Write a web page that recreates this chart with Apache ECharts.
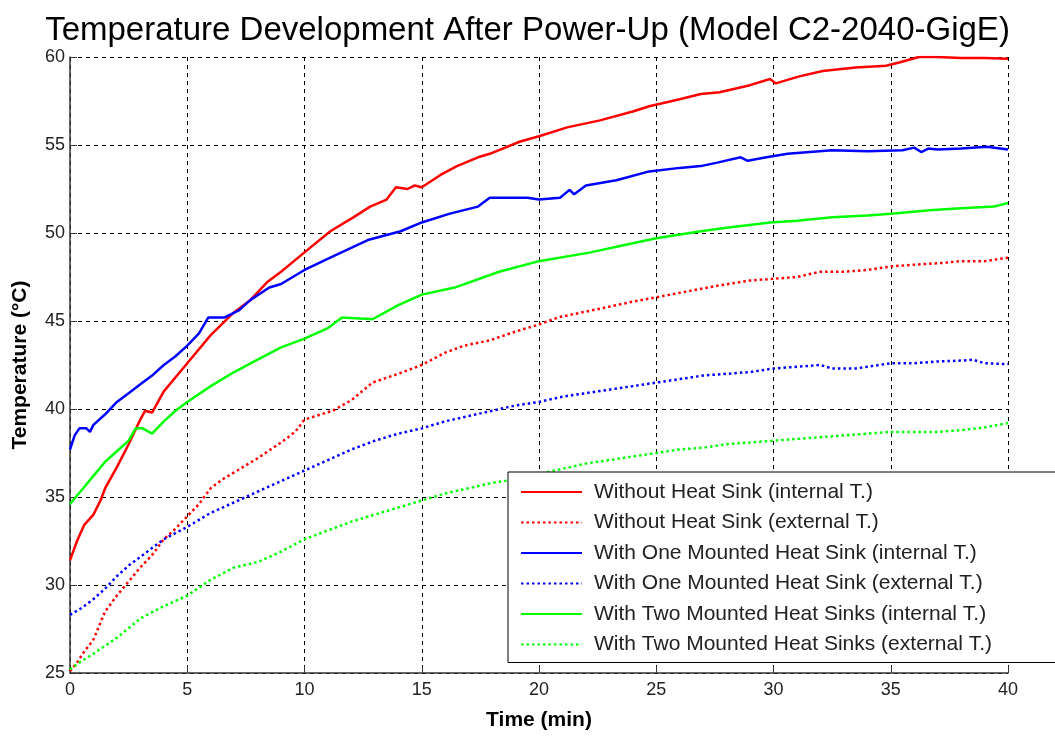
<!DOCTYPE html>
<html>
<head>
<meta charset="utf-8">
<script src="https://cdn.jsdelivr.net/npm/echarts@6/dist/echarts.min.js"></script>
<style>
  html, body { margin: 0; padding: 0; background: #fff; }
  #chart { width: 1055px; height: 736px; }
</style>
</head>
<body>
<div id="chart"></div>
<script>
// axis ticks
const xTicks = [0, 5, 10, 15, 20, 25, 30, 35, 40];
const yTicks = [25, 30, 35, 40, 45, 50, 55, 60];

const seriesNames = [
    'Without Heat Sink (internal T.)',
    'Without Heat Sink (external T.)',
    'With One Mounted Heat Sink (internal T.)',
    'With One Mounted Heat Sink (external T.)',
    'With Two Mounted Heat Sinks (internal T.)',
    'With Two Mounted Heat Sinks (external T.)'
];

// without heat sink, internal
const redInT = [0, 0.3, 0.6, 1.0, 1.3, 1.5, 2.0, 2.5, 3.0, 3.2, 3.5, 4.0, 5.0, 6.0, 7.0, 7.7, 8.4, 9.0, 10.0, 11.1, 12.1, 12.8, 13.5, 13.9, 14.4, 14.7, 15.0, 15.8, 16.5, 17.4, 17.9, 19.2, 20.0, 21.2, 22.6, 24.0, 24.7, 26.0, 26.9, 27.7, 29.0, 29.85, 30.1, 31.1, 32.1, 33.5, 34.8, 35.4, 36.2, 37.0, 38.0, 39.0, 40.0];
const redInV = [31.4, 32.5, 33.4, 34.0, 34.8, 35.5, 36.7, 38.0, 39.4, 39.9, 39.8, 41.0, 42.6, 44.2, 45.5, 46.2, 47.2, 47.8, 48.9, 50.1, 50.9, 51.5, 51.9, 52.6, 52.5, 52.7, 52.6, 53.3, 53.8, 54.3, 54.5, 55.2, 55.5, 56.0, 56.4, 56.9, 57.2, 57.6, 57.9, 58.0, 58.4, 58.75, 58.5, 58.9, 59.2, 59.4, 59.5, 59.7, 60.0, 60.0, 59.95, 59.95, 59.9];

// without heat sink, external
const redExT = [0, 0.3, 0.6, 1.0, 1.5, 2.0, 2.5, 3.0, 3.5, 4.0, 4.5, 5.0, 5.5, 6.0, 6.5, 7.0, 8.0, 9.0, 9.6, 10.0, 11.2, 12.0, 12.9, 14.0, 15.0, 16.0, 16.8, 17.9, 19.0, 20.0, 20.8, 22.6, 24.0, 25.2, 26.0, 27.6, 29.0, 30.0, 31.0, 32.0, 33.0, 34.0, 35.0, 36.0, 37.2, 38.0, 39.0, 40.0];
const redExV = [25.1, 25.6, 26.2, 26.9, 28.5, 29.4, 30.2, 31.0, 31.7, 32.6, 33.2, 33.9, 34.6, 35.5, 36.0, 36.4, 37.2, 38.1, 38.7, 39.4, 39.9, 40.5, 41.5, 42.0, 42.5, 43.2, 43.6, 43.9, 44.4, 44.8, 45.2, 45.7, 46.1, 46.4, 46.6, 47.0, 47.3, 47.4, 47.5, 47.8, 47.8, 47.9, 48.1, 48.2, 48.3, 48.4, 48.4, 48.6];

// one heat sink, internal
const blueInT = [0, 0.2, 0.4, 0.7, 0.85, 1.0, 1.5, 2.0, 2.5, 3.0, 3.5, 4.0, 4.5, 5.0, 5.5, 5.9, 6.6, 7.2, 7.7, 8.5, 9.0, 10.0, 11.1, 12.7, 14.1, 15.0, 16.2, 17.4, 17.9, 19.5, 20.0, 20.9, 21.3, 21.5, 22.0, 23.3, 24.7, 26.0, 26.9, 27.6, 28.6, 28.9, 29.7, 30.6, 32.5, 34.0, 35.5, 36.0, 36.3, 36.6, 37.0, 38.0, 39.1, 40.0];
const blueInV = [37.7, 38.5, 38.9, 38.9, 38.7, 39.1, 39.7, 40.4, 40.9, 41.4, 41.9, 42.5, 43.0, 43.6, 44.3, 45.2, 45.2, 45.6, 46.2, 46.9, 47.1, 47.9, 48.6, 49.6, 50.1, 50.6, 51.1, 51.5, 52.0, 52.0, 51.9, 52.0, 52.45, 52.2, 52.7, 53.0, 53.5, 53.7, 53.8, 54.0, 54.3, 54.1, 54.3, 54.5, 54.7, 54.65, 54.7, 54.85, 54.6, 54.8, 54.75, 54.8, 54.9, 54.75];

// one heat sink, external
const blueExT = [0, 0.5, 1.0, 1.5, 2.0, 2.5, 3.0, 4.0, 5.0, 6.0, 7.0, 8.0, 9.0, 10.0, 11.0, 12.0, 13.0, 14.0, 15.0, 16.0, 17.0, 18.0, 19.0, 20.0, 21.0, 22.0, 23.0, 24.0, 25.0, 26.0, 27.0, 28.0, 29.0, 30.0, 31.0, 32.0, 32.5, 33.5, 34.5, 35.0, 36.0, 37.0, 38.0, 38.5, 39.0, 40.0];
const blueExV = [28.3, 28.7, 29.2, 29.8, 30.5, 31.1, 31.6, 32.6, 33.3, 34.1, 34.7, 35.3, 35.9, 36.5, 37.1, 37.7, 38.2, 38.6, 38.9, 39.3, 39.6, 39.9, 40.2, 40.4, 40.7, 40.9, 41.1, 41.3, 41.5, 41.7, 41.9, 42.0, 42.1, 42.3, 42.4, 42.5, 42.3, 42.3, 42.5, 42.6, 42.6, 42.7, 42.75, 42.8, 42.6, 42.55];

// two heat sinks, internal
const greenInT = [0, 0.5, 1.0, 1.5, 2.0, 2.5, 2.8, 3.1, 3.5, 4.0, 4.5, 5.0, 6.0, 7.0, 8.0, 9.0, 10.0, 11.0, 11.6, 12.9, 14.0, 15.0, 16.4, 18.3, 20.0, 22.2, 23.6, 25.0, 26.9, 28.0, 29.85, 31.0, 32.5, 34.0, 35.0, 36.8, 38.0, 39.4, 40.0];
const greenInV = [34.6, 35.4, 36.2, 37.0, 37.6, 38.2, 38.9, 38.9, 38.6, 39.3, 39.9, 40.4, 41.3, 42.1, 42.8, 43.5, 44.0, 44.6, 45.2, 45.1, 45.9, 46.5, 46.9, 47.8, 48.4, 48.9, 49.3, 49.7, 50.1, 50.3, 50.6, 50.7, 50.9, 51.0, 51.1, 51.3, 51.4, 51.5, 51.7];

// two heat sinks, external
const greenExT = [0, 0.3, 1.0, 2.0, 3.0, 4.0, 5.0, 6.0, 7.0, 8.0, 9.0, 10.0, 11.0, 12.0, 13.0, 14.0, 15.0, 16.0, 17.0, 18.0, 19.0, 20.0, 21.0, 22.0, 23.0, 24.0, 25.0, 26.0, 27.0, 28.0, 29.0, 30.0, 31.0, 32.0, 33.0, 34.0, 35.0, 36.0, 37.0, 38.0, 39.0, 40.0];
const greenExV = [25.2, 25.5, 26.1, 27.0, 28.1, 28.8, 29.4, 30.3, 31.0, 31.3, 31.9, 32.6, 33.1, 33.6, 34.0, 34.4, 34.8, 35.2, 35.5, 35.8, 36.0, 36.3, 36.6, 36.9, 37.1, 37.3, 37.5, 37.7, 37.8, 38.0, 38.1, 38.2, 38.3, 38.4, 38.5, 38.6, 38.7, 38.7, 38.7, 38.8, 38.95, 39.2];

const colors = ['#ff0000', '#ff0000', '#0000ff', '#0000ff', '#00ff00', '#00ff00'];
const times = [redInT, redExT, blueInT, blueExT, greenInT, greenExT];
const values = [redInV, redExV, blueInV, blueExV, greenInV, greenExV];

const font = 'Arial, "Liberation Sans", sans-serif';

const chart = echarts.init(document.getElementById('chart'), null, { renderer: 'canvas' });

const series = seriesNames.map((name, i) => ({
    name: name,
    type: 'line',
    data: times[i].map((t, k) => [t, values[i][k]]),
    symbol: 'none',
    showSymbol: false,
    smooth: false,
    animation: false,
    lineStyle: {
        color: colors[i],
        width: 2.5,
        type: i % 2 === 1 ? [2.5, 3] : 'solid'
    },
    itemStyle: { color: colors[i] }
}));

chart.setOption({
    backgroundColor: '#fff',
    animation: false,
    title: {
        text: 'Temperature Development After Power-Up (Model C2-2040-GigE)',
        left: 'center',
        top: 9,
        textStyle: { fontFamily: font, fontSize: 33, fontWeight: 'normal', color: '#000' }
    },
    grid: { left: 70, right: 47, top: 57, bottom: 63, containLabel: false, outerBoundsMode: 'none' },
    legend: {
        orient: 'vertical',
        left: 508,
        top: 472,
        data: seriesNames,
        itemWidth: 61,
        itemHeight: 14,
        itemGap: 8.5,
        padding: [9, 100, 7, 12],
        borderColor: '#000',
        borderWidth: 1,
        borderRadius: 0,
        backgroundColor: '#fff',
        itemStyle: { opacity: 0 },
        textStyle: { fontFamily: font, fontSize: 21, color: '#222', lineHeight: 22, padding: [0, 0, 0, 7] }
    },
    xAxis: {
        type: 'value',
        min: 0,
        max: 40,
        interval: 5,
        name: 'Time (min)',
        nameLocation: 'middle',
        nameGap: 37,
        nameTextStyle: { fontFamily: font, fontSize: 21, fontWeight: 'bold', color: '#000' },
        axisLine: { show: true, onZero: false, lineStyle: { color: '#333', width: 1.5 } },
        axisTick: { show: true, inside: true, length: 7, lineStyle: { color: '#333' } },
        axisLabel: { fontFamily: font, fontSize: 18, color: '#222', margin: 8, formatter: v => xTicks.includes(v) ? String(v) : '' },
        splitLine: { show: true, lineStyle: { color: '#000', type: [4, 4], width: 1 } }
    },
    yAxis: {
        type: 'value',
        min: 25,
        max: 60,
        interval: 5,
        name: 'Temperature (°C)',
        nameLocation: 'middle',
        nameGap: 39,
        nameTextStyle: { fontFamily: font, fontSize: 21, fontWeight: 'bold', color: '#000' },
        axisLine: { show: true, lineStyle: { color: '#333', width: 1.5 } },
        axisTick: { show: true, inside: true, length: 7, lineStyle: { color: '#333' } },
        axisLabel: { fontFamily: font, fontSize: 18, color: '#222', margin: 5, formatter: v => yTicks.includes(v) ? String(v) : '' },
        splitLine: { show: true, lineStyle: { color: '#000', type: [4, 4], width: 1 } }
    },
    series: series
});
</script>
</body>
</html>
